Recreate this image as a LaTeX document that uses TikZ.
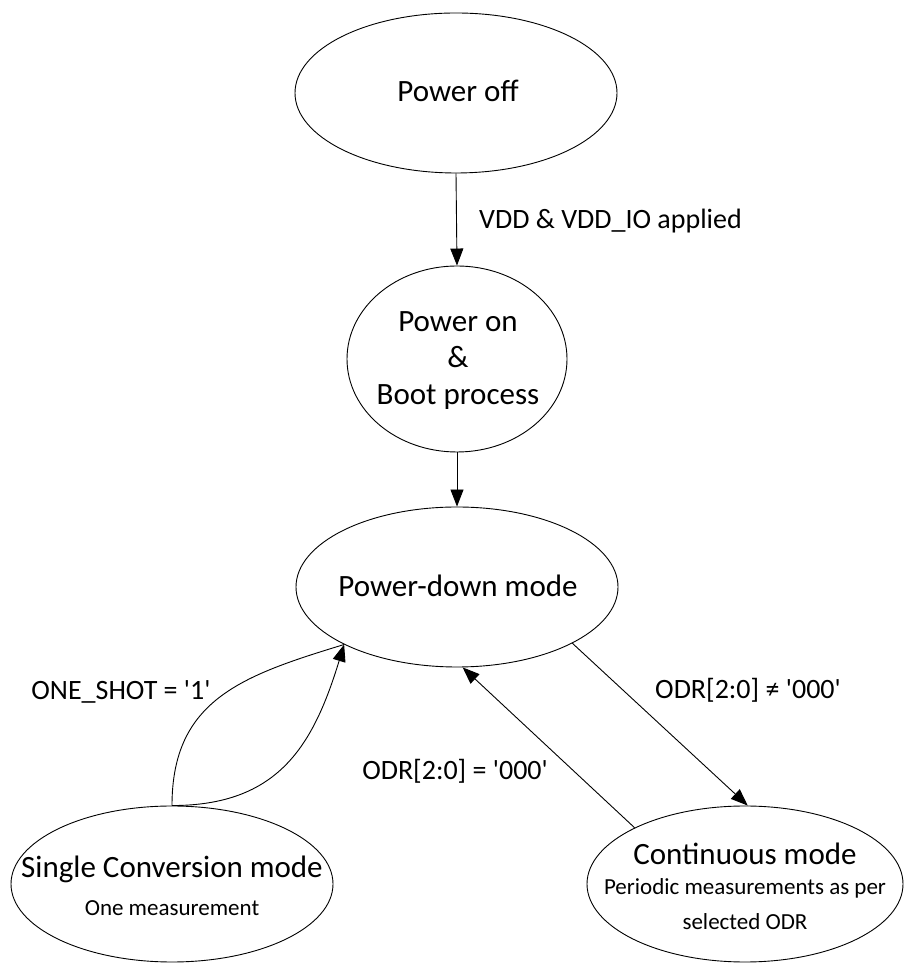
\documentclass[tikz,border=0pt]{standalone}
\usepackage{fontspec}
\setmainfont{Carlito}
\usetikzlibrary{shapes.geometric,arrows.meta}
\begin{document}
\begin{tikzpicture}[x=1pt,y=1pt,
  state/.style={draw,ellipse,line width=0.9pt,inner sep=0pt},
  big/.style={font=\fontsize{31}{36}\selectfont,anchor=base,inner sep=0pt},
  small/.style={font=\fontsize{23}{27}\selectfont,anchor=base,inner sep=0pt},
  lbl/.style={font=\fontsize{28}{32}\selectfont,anchor=base,inner sep=0pt},
  arr/.style={line width=0.9pt,-{Triangle[length=17pt,width=13pt]}},
  plain/.style={line width=0.9pt}]
\useasboundingbox (0,0) rectangle (903,963);
\node[state,minimum width=322pt,minimum height=160pt] (off) at (456,870) {};
\node[state,minimum width=220pt,minimum height=186pt] (on) at (457,604) {};
\node[state,minimum width=322pt,minimum height=160pt] (pd) at (457,376) {};
\node[state,minimum width=322pt,minimum height=156pt] (single) at (172,79) {};
\node[state,minimum width=316pt,minimum height=156pt] (cont) at (745,79) {};
\node[big] (toff) at (458,861) {Power off};
\node[big] (ton1) at (458,631) {Power on};
\node[big] (ton2) at (458,595) {\&};
\node[big] (ton3) at (458,558) {Boot process};
\node[big] (tpd) at (458,366) {Power-down mode};
\node[big] (tsingle) at (172,85) {Single Conversion mode};
\node[small] (tsingle2) at (172,47) {One measurement};
\node[big] (tcont) at (745,98) {Continuous mode};
\node[small] (tcont2) at (745,68) {Periodic measurements as per};
\node[small] (tcont3) at (745,33) {selected ODR};
\node[lbl,anchor=base west] (lvdd) at (479,734) {VDD \& VDD\_IO applied};
\node[lbl] (lone) at (121,263) {ONE\_SHOT = \textquotesingle 1\textquotesingle};
\node[lbl] (lne) at (748,264) {ODR[2:0] ≠ \textquotesingle 000\textquotesingle};
\node[lbl,anchor=base east] (leq) at (548,183) {ODR[2:0] = \textquotesingle 000\textquotesingle};
\draw[arr] (off.south) -- (on.north);
\draw[arr] (on.south) -- (pd.north);
\draw[plain] (single.north) to[out=90,in=197,looseness=1.15] (pd.207);
\draw[arr] (single.north) to[out=0,in=-107,looseness=1.15] (pd.207);
\draw[arr] (pd.-26) -- (cont.88);
\draw[arr] (cont.153) -- (pd.-86);
\end{tikzpicture}
\end{document}
